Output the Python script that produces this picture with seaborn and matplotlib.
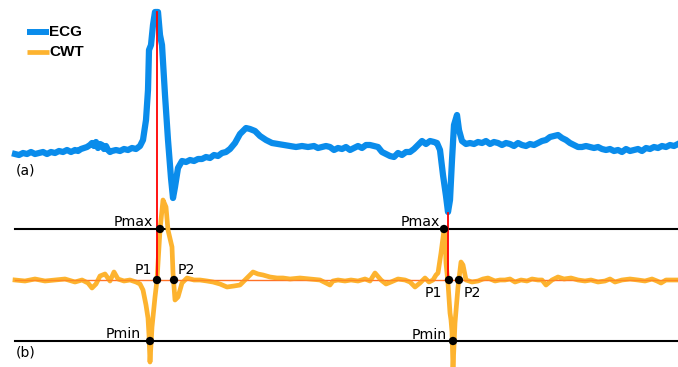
import matplotlib
matplotlib.use("Agg")
import matplotlib.pyplot as plt
import seaborn as sns
import pandas as pd

# ECG trace (pixel coordinates)
ecg_x = [15, 19, 23, 27, 31, 35, 39, 43, 47, 51, 55, 59, 63, 67, 71, 75, 78, 81, 84, 87, 90, 92, 94, 96, 98,
         100, 102, 104, 106, 108, 110, 112, 116, 120, 124, 128, 132, 136, 140, 143,
         146, 148, 149, 151, 153, 155, 158, 160, 162, 165, 168, 171, 173, 175, 178, 182, 186, 190, 194, 198,
         202, 206, 210, 214, 218, 222, 226, 230, 235, 240, 246, 250, 255, 260, 266, 272, 278, 284, 290, 296,
         302, 308, 314, 318, 322, 326, 330, 334, 338, 342, 346, 350, 354, 358, 362, 366, 370, 374, 378, 382,
         386, 390, 394, 398, 402, 406, 410, 414, 418, 422, 426, 430, 434, 437, 440, 443, 446, 448, 450, 452, 454,
         457, 459, 462, 466, 470, 474, 478, 482, 486, 490, 494, 498, 502, 506, 510, 514, 518, 522, 526, 530,
         534, 538, 542, 546, 550, 554, 558, 562, 566, 570, 574, 578, 582, 586, 590, 594, 598, 602, 606, 610,
         614, 618, 622, 626, 630, 634, 638, 642, 646, 650, 654, 658, 662, 666, 670, 674, 678]
ecg_y = [154, 155, 153, 154, 152, 154, 153, 152, 154, 152, 153, 151, 152, 150, 152, 150, 151, 149, 148, 147, 145, 143,
         146, 142, 148, 144, 145, 149, 146, 150, 152, 151, 150, 151, 149, 150, 148, 149, 146, 140,
         120, 90, 50, 45, 25, 12, 12, 35, 45, 95, 140, 178, 198, 187, 168, 161, 162, 160, 161, 159,
         159, 157, 158, 155, 156, 153, 152, 149, 143, 134, 128, 129, 131, 136, 140, 143, 144, 145, 146, 147,
         146, 147, 146, 148, 147, 146, 147, 150, 148, 149, 147, 150, 148, 146, 148, 145, 145, 146, 147, 152,
         154, 156, 157, 153, 155, 152, 152, 149, 145, 141, 144, 141, 142, 143, 150, 175, 196, 212, 200, 160, 125,
         115, 130, 141, 144, 143, 144, 142, 143, 141, 144, 142, 143, 145, 143, 144, 146, 143, 145, 146, 144,
         145, 143, 141, 140, 137, 136, 135, 138, 140, 143, 145, 147, 147, 146, 147, 148, 147, 149, 150, 149,
         151, 150, 152, 149, 151, 150, 149, 151, 148, 149, 147, 148, 146, 147, 145, 146, 144]

# CWT trace (pixel coordinates)
cwt_x = [15, 25, 35, 45, 55, 65, 75, 82, 88, 92, 96, 100, 105, 110, 114, 118, 124, 130, 136, 140, 143, 146, 148,
         149, 150, 152, 155, 157, 160, 163, 166, 168, 172, 173, 175, 178, 182, 187, 194, 200, 207, 213, 220, 227,
         234, 240, 248, 253, 258, 263, 270, 277, 283, 290, 300, 310, 320, 326, 330, 333, 338, 345, 351, 358, 365,
         370, 375, 381, 386, 391, 398, 405, 410, 415, 420, 425, 429, 433, 436, 438, 441, 444, 445, 446, 448,
         450, 451, 452, 453, 455, 458, 461, 463, 466, 472, 478, 483, 488, 495, 500, 505, 510, 515, 521, 527,
         532, 538, 542, 546, 552, 558, 564, 571, 578, 585, 591, 598, 605, 610, 615, 622, 630, 638, 645, 652,
         657, 661, 666, 671, 678]
cwt_y = [280, 281, 279, 281, 280, 279, 282, 280, 283, 288, 284, 276, 274, 281, 272, 279, 281, 280, 282, 284, 290,
         305, 318, 335, 362, 327, 297, 280, 230, 200, 207, 230, 247, 273, 300, 297, 283, 278, 280, 280, 281, 282,
         284, 287, 286, 285, 277, 272, 274, 275, 277, 278, 278, 279, 278, 279, 280, 283, 285, 281, 280, 281, 280,
         281, 279, 281, 273, 280, 284, 282, 279, 280, 282, 287, 283, 278, 282, 280, 275, 273, 253, 230, 235, 263,
         283, 313, 320, 332, 368, 323, 287, 262, 265, 280, 282, 281, 279, 278, 281, 280, 280, 279, 282, 280, 281,
         279, 280, 280, 285, 280, 277, 279, 278, 280, 281, 280, 282, 281, 279, 282, 280, 279, 280, 281, 279, 281,
         283, 280, 280, 280]

# marker points and labels
pt_x = [160, 157, 174, 150, 444, 449, 459, 453]
pt_y = [229, 280, 280, 341, 229, 280, 280, 341]
pt_lab = ["Pmax", "P1", "P2", "Pmin", "Pmax", "P1", "P2", "Pmin"]

ecg = pd.DataFrame({"x": ecg_x, "y": ecg_y})
cwt = pd.DataFrame({"x": cwt_x, "y": cwt_y})
pts = pd.DataFrame({"x": pt_x, "y": pt_y, "label": pt_lab})

W, H = 678, 367
fig = plt.figure(figsize=(W / 100, H / 100), dpi=100)
ax = fig.add_axes([0, 0, 1, 1])
ax.set_xlim(0, W)
ax.set_ylim(H, 0)
ax.axis("off")

BLUE = "#0A8CEB"
ORANGE = "#FDB32F"

# thin red baseline for the CWT and black threshold lines
ax.plot([15, W], [280, 280], color="#FF5A3C", lw=0.8, zorder=1)
ax.plot([15, W], [229, 229], color="black", lw=1.5, zorder=1)
ax.plot([15, W], [341, 341], color="black", lw=1.5, zorder=1)

sns.lineplot(data=ecg, x="x", y="y", sort=False, estimator=None, color=BLUE, lw=4.5, ax=ax, zorder=2)
sns.lineplot(data=cwt, x="x", y="y", sort=False, estimator=None, color=ORANGE, lw=3.4, ax=ax, zorder=2)
ax.plot([15, W], [280, 280], color="#FF7A20", lw=1.0, alpha=0.75, zorder=3)

# red vertical lines at R-peaks
ax.plot([156.5, 156.5], [12, 280], color="red", lw=1.3, zorder=4)
ax.plot([448, 448], [213, 280], color="red", lw=1.3, zorder=4)

sns.scatterplot(data=pts, x="x", y="y", color="black", s=36, edgecolor="none", ax=ax, zorder=5, legend=False)

lab_pos = [(153, 222, "right"), (152, 270, "right"), (178, 270, "left"), (141, 334, "right"),
           (440, 222, "right"), (442, 293, "right"), (464, 293, "left"), (447, 335, "right")]
for (tx, ty, ha), lab in zip(lab_pos, pt_lab):
    ax.text(tx, ty, lab, ha=ha, va="center", fontsize=10.2, family="DejaVu Sans", color="black", zorder=6)

ax.text(16, 171, "(a)", ha="left", va="center", fontsize=10, family="DejaVu Sans")
ax.text(16, 352, "(b)", ha="left", va="center", fontsize=10, family="DejaVu Sans")

# legend drawn by hand
ax.plot([27, 49], [32, 32], color=BLUE, lw=4.3, solid_capstyle="butt")
ax.plot([27, 49], [52, 52], color=ORANGE, lw=3.4, solid_capstyle="butt")
ax.text(49, 32, "ECG", ha="left", va="center", fontsize=11, fontweight="bold", family="Liberation Sans")
ax.text(49, 52, "CWT", ha="left", va="center", fontsize=11, fontweight="bold", family="Liberation Sans")

fig.savefig("out.png", dpi=100)
